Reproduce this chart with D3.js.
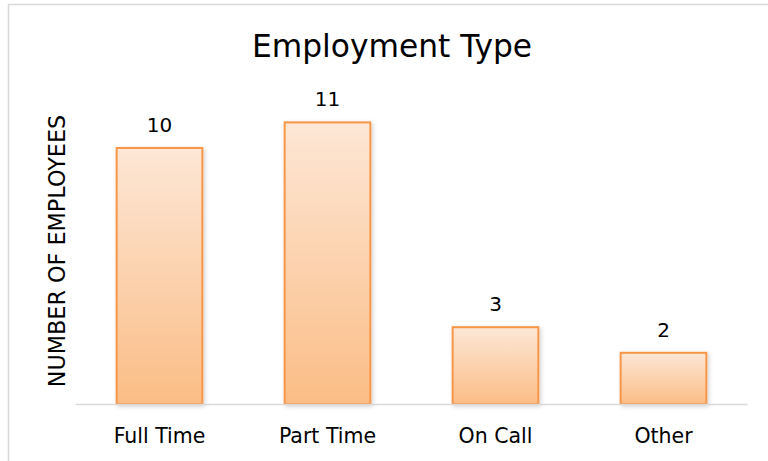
<!DOCTYPE html>
<html>
<head>
<meta charset="utf-8">
<script src="https://cdn.jsdelivr.net/npm/d3@7"></script>
<style>
    body { margin: 0; background: #fff; }
    text { font-family: "DejaVu Sans", sans-serif; fill: #000; }
</style>
</head>
<body>
<svg id="chart"></svg>
<script>
    var categories = ["Full Time", "Part Time", "On Call", "Other"],
        employees = [10, 11, 3, 2],
        chartTitle = "Employment Type",
        yTitle = "NUMBER OF EMPLOYEES";

    var width = 768,
        height = 461,
        margin = {left: 75.5, right: 20.5, top: 96.8, bottom: 57};
    var fontFam = '"DejaVu Sans", sans-serif';

    var svg = d3.select('#chart')
        .attr("width", width)
        .attr("height", height)

    // outer chart border
    svg.append('rect')
        .attr('x', 8.5)
        .attr('y', 4.5)
        .attr('width', width + 10)
        .attr('height', height + 10)
        .attr('fill', 'none')
        .attr('stroke', '#d9d9d9')
        .attr('stroke-width', 1.5)

    var defs = svg.append('defs');
    var grad = defs.append('linearGradient')
        .attr('id', 'barFill')
        .attr('x1', 0).attr('y1', 0)
        .attr('x2', 0).attr('y2', 1)
    grad.append('stop').attr('offset', '0%').attr('stop-color', '#fde7d6')
    grad.append('stop').attr('offset', '100%').attr('stop-color', '#fbbd86')

    var shadow = defs.append('filter')
        .attr('id', 'shadow')
        .attr('x', '-10%').attr('y', '-10%')
        .attr('width', '130%').attr('height', '130%')
    shadow.append('feDropShadow')
        .attr('dx', 1.5).attr('dy', 1.5)
        .attr('stdDeviation', 2)
        .attr('flood-color', '#000')
        .attr('flood-opacity', 0.18)

    var xScale = d3.scaleBand()
        .domain(categories)
        .range([margin.left, width - margin.right])
        .paddingInner(0.49)
        .paddingOuter(0.245)

    var yScale = d3.scaleLinear()
        .domain([0, 12])
        .range([height - margin.bottom, margin.top])

    var data = categories.map(function (c, i) {
        return {name: c, value: employees[i]};
    })

    svg.selectAll('.bar')
        .data(data)
        .enter()
        .append('rect')
        .attr('class', 'bar')
        .attr('x', function (d) { return xScale(d.name) })
        .attr('y', function (d) { return yScale(d.value) })
        .attr('width', xScale.bandwidth())
        .attr('height', function (d) { return yScale(0) - yScale(d.value) })
        .attr('fill', 'url(#barFill)')
        .attr('stroke', '#f79646')
        .attr('stroke-width', 2)
        .attr('filter', 'url(#shadow)')

    // baseline
    svg.append('line')
        .attr('x1', margin.left)
        .attr('x2', width - margin.right)
        .attr('y1', yScale(0) + 0.5)
        .attr('y2', yScale(0) + 0.5)
        .attr('stroke', '#d9d9d9')
        .attr('stroke-width', 1.5)

    var xAxis = d3.axisBottom(xScale).tickSize(0).tickPadding(24);
    var gx = svg.append('g')
        .attr('transform', 'translate(0,' + yScale(0) + ')')
        .call(xAxis)
    gx.select('.domain').remove()
    gx.selectAll('text')
        .attr('font-size', 20.5)
        .attr('font-family', fontFam)
        .attr('fill', '#000')

    svg.selectAll('.val')
        .data(data)
        .enter()
        .append('text')
        .attr('class', 'val')
        .attr('x', function (d) { return xScale(d.name) + xScale.bandwidth() / 2 })
        .attr('y', function (d) { return yScale(d.value) - 16 })
        .attr('text-anchor', 'middle')
        .attr('font-size', 20)
        .text(function (d) { return d.value })

    svg.append('text')
        .attr('x', 392)
        .attr('y', 57)
        .attr('text-anchor', 'middle')
        .attr('font-size', 31.3)
        .text(chartTitle)

    svg.append('text')
        .attr('transform', 'translate(65,' + 251 + ') rotate(-90)')
        .attr('text-anchor', 'middle')
        .attr('font-size', 22.3)
        .text(yTitle)
</script>
</body>
</html>
